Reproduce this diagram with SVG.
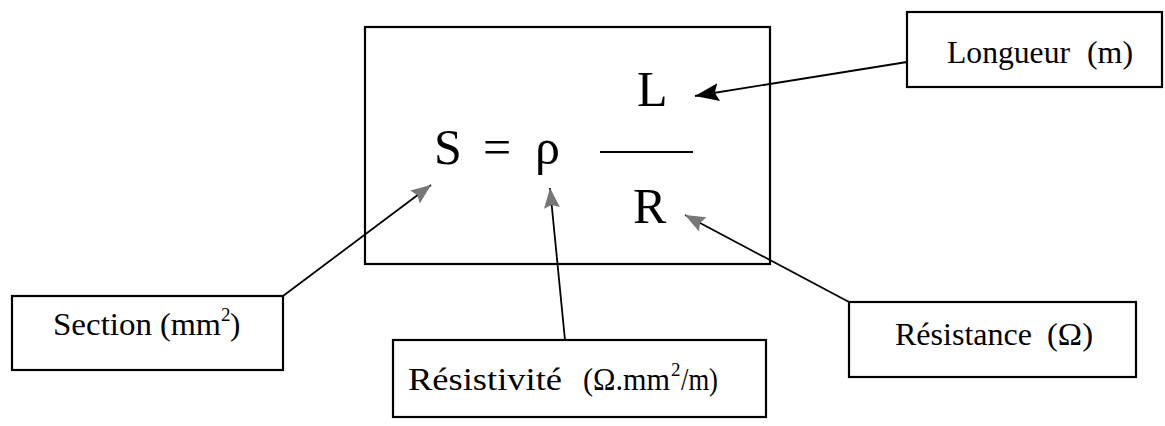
<svg xmlns="http://www.w3.org/2000/svg" width="1165" height="426" viewBox="0 0 1165 426">
<style>
.box{fill:#fff;stroke:#000;stroke-width:2.2}
.lbl{font-family:"Liberation Serif","Times New Roman",serif;font-size:31px;fill:#000}
.sup{font-family:"Liberation Serif","Times New Roman",serif;font-size:19px;fill:#000}
.eq{font-family:"Liberation Serif","Times New Roman",serif;font-size:50px;fill:#000}
.con{fill:none;stroke:#000;stroke-width:1.8}
</style>
<defs>
<marker id="blk" markerUnits="userSpaceOnUse" markerWidth="26" markerHeight="20" refX="24" refY="9" orient="auto">
<path d="M0,0 L24,9 L0,18 L4,9 z" fill="#000"/>
</marker>
<marker id="gry" markerUnits="userSpaceOnUse" markerWidth="22" markerHeight="18" refX="20" refY="8" orient="auto">
<path d="M0,0 L20,8 L0,16 L3,8 z" fill="#777"/>
</marker>
</defs>
<g id="formula">
<rect class="box" x="365" y="27" width="405" height="237" stroke-width="2.5"/>
<text class="eq" x="434" y="164">S</text>
<text class="eq" x="483" y="164">=</text>
<text class="eq" x="535" y="164">ρ</text>
<line x1="600" y1="152" x2="693" y2="152" stroke="#000" stroke-width="2"/>
<text class="eq" x="637" y="106" font-size="46">L</text>
<text class="eq" x="633" y="223" font-size="46">R</text>
</g>
<g id="longueur">
<rect class="box" x="907" y="12" width="255" height="75"/>
<text class="lbl" x="947" y="63" textLength="123" lengthAdjust="spacingAndGlyphs">Longueur</text>
<text class="lbl" x="1087" y="63" textLength="46" lengthAdjust="spacingAndGlyphs">(m)</text>
</g>
<g id="section">
<rect class="box" x="12" y="296" width="271" height="74"/>
<text class="lbl" x="53" y="335" textLength="99" lengthAdjust="spacingAndGlyphs">Section</text>
<text class="lbl" x="160" y="335" textLength="61" lengthAdjust="spacingAndGlyphs">(mm</text>
<text class="sup" x="221" y="321">2</text>
<text class="lbl" x="230" y="335">)</text>
</g>
<g id="resistivite">
<rect class="box" x="393" y="340" width="373" height="77"/>
<text class="lbl" x="408" y="390" textLength="154" lengthAdjust="spacingAndGlyphs">Résistivité</text>
<text class="lbl" x="583" y="390" textLength="87" lengthAdjust="spacingAndGlyphs">(Ω.mm</text>
<text class="sup" x="671" y="376">2</text>
<text class="lbl" x="681" y="390" textLength="37" lengthAdjust="spacingAndGlyphs">/m)</text>
</g>
<g id="resistance">
<rect class="box" x="849" y="302" width="287" height="75"/>
<text class="lbl" x="895" y="345" textLength="137" lengthAdjust="spacingAndGlyphs">Résistance</text>
<text class="lbl" x="1047" y="345" textLength="46" lengthAdjust="spacingAndGlyphs">(Ω)</text>
</g>
<g id="connectors">
<line class="con" x1="907" y1="62" x2="695" y2="96" marker-end="url(#blk)"/>
<line class="con" x1="283" y1="296" x2="431" y2="185" marker-end="url(#gry)"/>
<line class="con" x1="565" y1="340" x2="550" y2="188" marker-end="url(#gry)"/>
<line class="con" x1="849" y1="302" x2="685" y2="215" marker-end="url(#gry)"/>
</g>
</svg>
